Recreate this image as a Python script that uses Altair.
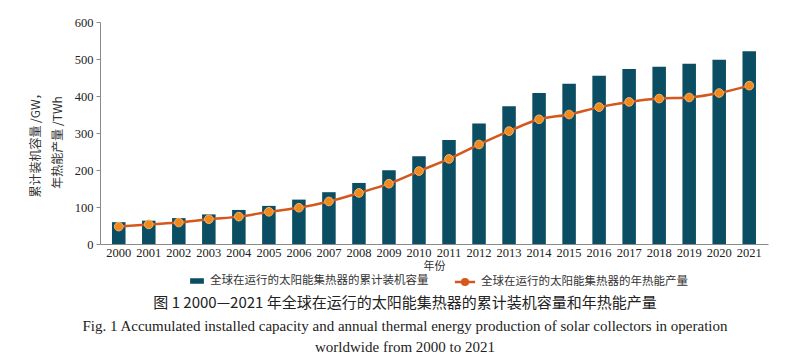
import altair as alt
import pandas as pd

years = [str(y) for y in range(2000, 2022)]
capacity = [59, 63, 70, 80, 92, 103, 120, 140, 165, 199, 237, 281, 326, 372, 408, 433, 455, 473, 479, 487, 498, 521]
production = [47, 53, 58, 67, 74, 87, 98, 115, 138, 163, 197, 230, 269, 305, 337, 350, 370, 384, 393, 396, 408, 428]

bar_name = "全球在运行的太阳能集热器的累计装机容量"
line_name = "全球在运行的太阳能集热器的年热能产量"

df = pd.DataFrame({
    "year": years,
    "capacity": capacity,
    "production": production,
    "s_bar": [bar_name] * len(years),
    "s_line": [line_name] * len(years),
})

SERIF = "Liberation Serif"
CJK = "Noto Sans CJK SC"

x = alt.X("year:N", title="年份",
          scale=alt.Scale(paddingInner=0.55, paddingOuter=0.4),
          axis=alt.Axis(labelAngle=0, labelFont=SERIF, labelFontSize=12.5, labelColor="#222",
                        ticks=False, domainColor="#8a8a8a", labelPadding=2,
                        titleFont=CJK, titleFontSize=11, titleFontWeight="normal",
                        titleColor="#333", titlePadding=2))

y_axis = alt.Axis(values=[0, 100, 200, 300, 400, 500, 600], grid=False, labelOverlap=False,
                  labelFont=SERIF, labelFontSize=12.5, labelColor="#222",
                  tickColor="#8a8a8a", tickSize=4, domainColor="#8a8a8a",
                  labelPadding=3,
                  titleFont=CJK, titleFontSize=12, titleFontWeight="normal",
                  titleColor="#333", titlePadding=10, titleY=120,
                  titleLineHeight=22)
y_title = ["累计装机容量 /GW，", "年热能产量 /TWh"]
y_scale = alt.Scale(domain=[0, 600])

bars = alt.Chart(df).mark_bar(color="#0b4d62").encode(
    x=x,
    y=alt.Y("capacity:Q", title=y_title, scale=y_scale, axis=y_axis),
    fill=alt.Fill("s_bar:N", title=None,
                  scale=alt.Scale(domain=[bar_name], range=["#0b4d62"]),
                  legend=alt.Legend(orient="none", legendX=90, legendY=252,
                                    symbolType="M-1,-0.4L1,-0.4L1,0.4L-1,0.4Z",
                                    symbolSize=190, symbolStrokeWidth=0,
                                    labelFont=CJK, labelFontSize=11.5, labelColor="#333",
                                    labelOffset=6, labelLimit=0)),
)

line = alt.Chart(df).mark_line(interpolate="monotone", strokeWidth=2.5).encode(
    x=alt.X("year:N"),
    y=alt.Y("production:Q", title=y_title, scale=y_scale, axis=y_axis),
    stroke=alt.Stroke("s_line:N", title=None,
                      scale=alt.Scale(domain=[line_name], range=["#d4571c"]),
                      legend=alt.Legend(orient="none", legendX=357, legendY=252,
                                        symbolType="M-1.6,0L1.6,0M-0.45,0A0.45,0.45 0 1,0 0.45,0A0.45,0.45 0 1,0 -0.45,0Z",
                                        symbolSize=160, symbolStrokeWidth=2.5,
                                        symbolFillColor="#f08a1e",
                                        labelFont=CJK, labelFontSize=11.5, labelColor="#333",
                                        labelOffset=8, labelLimit=0)),
)

points = alt.Chart(df).mark_point(filled=True, size=75, color="#f08a1e",
                                  stroke="#f6b46a", strokeWidth=1, opacity=1).encode(
    x=alt.X("year:N"),
    y=alt.Y("production:Q", title=y_title, scale=y_scale, axis=y_axis),
)

chart = alt.layer(bars, line, points).resolve_scale(fill="independent", stroke="independent").properties(
    width=668,
    height=222,
    autosize=alt.AutoSizeParams(type="none"),
    padding={"left": 92, "top": 14, "right": 17, "bottom": 118},
    title=alt.Title(
        text="图 1  2000—2021 年全球在运行的太阳能集热器的累计装机容量和年热能产量",
        subtitle=["Fig. 1  Accumulated installed capacity and annual thermal energy production of solar collectors in operation",
                  "worldwide from 2000 to 2021"],
        orient="bottom", anchor="middle", frame="group", dx=-29,
        font=CJK, fontSize=15, fontWeight="normal", color="#222",
        subtitleFont=SERIF, subtitleFontSize=15, subtitleColor="#222",
        subtitleLineHeight=21, subtitlePadding=8, offset=6,
    ),
).configure_view(stroke=None)

chart.save("out.html", embed_options={"renderer": "svg", "actions": False})
